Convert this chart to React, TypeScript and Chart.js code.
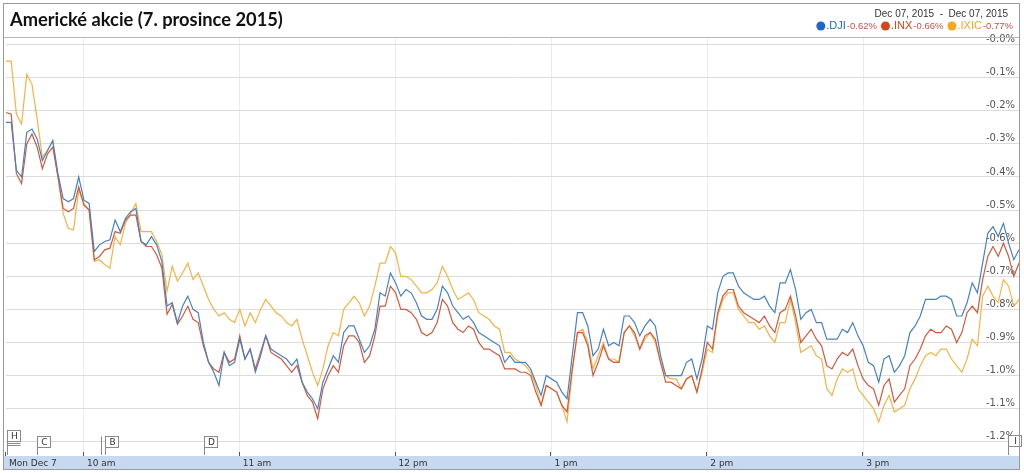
import React, { useEffect, useRef } from 'react';
import { Chart, registerables } from 'chart.js';

Chart.register(...registerables);

// ---- Text ----
const TITLE = 'Americké akcie (7. prosince 2015)';
const DATE_RANGE = 'Dec 07, 2015  -  Dec 07, 2015';

// ---- Series ----
const seriesNames = ['.DJI', '.INX', '.IXIC'];
const seriesChanges = ['-0.62%', '-0.66%', '-0.77%'];
const lineColors = ['#4a80c2', '#cf5a3c', '#f1b446'];
const legendColors = ['#1c68c4', '#d5461e', '#f5a623'];

// Minutes after 9:30 am, sampled every 2 minutes until 4:00 pm
const minutes: number[] = Array.from({ length: 196 }, (_, i) => i * 2);

// % change vs previous close
const dji = [
  -0.235, -0.235, -0.38, -0.40, -0.265, -0.255, -0.285, -0.35, -0.32, -0.29, -0.39, -0.465, -0.475, -0.465, -0.40, -0.47, -0.48,
  -0.625, -0.605, -0.595, -0.59, -0.53, -0.565, -0.525, -0.505, -0.495, -0.595, -0.605, -0.58, -0.605, -0.655, -0.79, -0.78, -0.84,
  -0.79, -0.76, -0.80, -0.81, -0.90, -0.96, -0.99, -1.03, -0.93, -0.97, -0.96, -0.89, -0.95, -0.92, -0.99, -0.94, -0.88, -0.92,
  -0.93, -0.94, -0.95, -0.97, -0.95, -1.02, -1.05, -1.07, -1.10, -1.02, -0.98, -0.94, -0.96, -0.87, -0.85, -0.85, -0.89, -0.93,
  -0.91, -0.86, -0.75, -0.76, -0.69, -0.72, -0.76, -0.74, -0.75, -0.78, -0.82, -0.83,
  -0.83, -0.80, -0.73, -0.75, -0.79, -0.81, -0.83, -0.82, -0.84, -0.87, -0.88, -0.89, -0.90, -0.91, -0.96, -0.94, -0.96, -0.96,
  -0.96, -0.98, -1.02, -1.06, -1.00, -1.01, -1.02, -1.05, -1.07, -0.94, -0.81, -0.81, -0.85, -0.94, -0.92, -0.86, -0.91, -0.90,
  -0.91, -0.82, -0.82, -0.84, -0.88, -0.85, -0.83, -0.85, -0.94, -1.00, -1.00, -1.00, -1.00, -0.96, -0.95, -1.01, -0.95,
  -0.85, -0.86, -0.75, -0.70, -0.69, -0.69, -0.73, -0.75, -0.76, -0.77, -0.77, -0.76, -0.79, -0.81, -0.72, -0.72, -0.68, -0.74,
  -0.83, -0.81, -0.80, -0.84, -0.84, -0.89, -0.89, -0.89, -0.86, -0.87, -0.84, -0.88, -0.91, -0.96, -0.97, -1.02, -0.95, -0.94,
  -0.99, -0.97, -0.94, -0.87, -0.85, -0.82, -0.77, -0.77, -0.77, -0.76, -0.76, -0.77, -0.82, -0.82, -0.78, -0.72, -0.75, -0.66,
  -0.57, -0.55, -0.58, -0.54, -0.60, -0.65, -0.62,
];

const inx = [
  -0.205, -0.21, -0.39, -0.42, -0.30, -0.27, -0.31, -0.375, -0.33, -0.31, -0.40, -0.495, -0.505, -0.495, -0.43, -0.485, -0.50,
  -0.65, -0.64, -0.62, -0.615, -0.565, -0.57, -0.53, -0.515, -0.515, -0.595, -0.61, -0.61, -0.635, -0.675, -0.815, -0.785, -0.845,
  -0.82, -0.79, -0.83, -0.84, -0.91, -0.96, -0.98, -0.99, -0.93, -0.96, -0.95, -0.88, -0.95, -0.92, -0.98, -0.93, -0.88, -0.93,
  -0.94, -0.95, -0.97, -0.99, -0.97, -1.02, -1.06, -1.08, -1.13, -1.04, -1.00, -0.97, -0.99, -0.91, -0.88, -0.88, -0.90, -0.96,
  -0.94, -0.88, -0.79, -0.79, -0.73, -0.75, -0.80, -0.80, -0.81, -0.83, -0.87, -0.88,
  -0.87, -0.84, -0.77, -0.79, -0.84, -0.86, -0.87, -0.85, -0.86, -0.90, -0.92, -0.92, -0.93, -0.94, -0.98, -0.98, -0.98, -0.99,
  -0.99, -1.00, -1.05, -1.09, -1.03, -1.04, -1.05, -1.09, -1.11, -0.98, -0.87, -0.87, -0.91, -1.00, -0.96, -0.91, -0.95, -0.96,
  -0.96, -0.87, -0.85, -0.87, -0.92, -0.88, -0.87, -0.89, -0.96, -1.02, -1.02, -1.03, -1.04, -1.01, -1.00, -1.05, -0.98,
  -0.90, -0.92, -0.81, -0.76, -0.74, -0.74, -0.79, -0.81, -0.82, -0.83, -0.84, -0.82, -0.85, -0.87, -0.81, -0.80, -0.76, -0.82,
  -0.90, -0.88, -0.86, -0.89, -0.91, -0.97, -0.98, -0.95, -0.93, -0.94, -0.92, -0.97, -1.01, -1.03, -1.04, -1.09, -1.03, -1.01,
  -1.08, -1.06, -1.04, -0.97, -0.95, -0.92, -0.88, -0.86, -0.87, -0.87, -0.85, -0.86, -0.90, -0.87, -0.81, -0.79, -0.81, -0.71,
  -0.64, -0.61, -0.64, -0.60, -0.64, -0.70, -0.66,
];

const ixic = [
  -0.05, -0.05, -0.21, -0.24, -0.09, -0.12, -0.225, -0.34, -0.32, -0.29, -0.40, -0.51, -0.555, -0.56, -0.44, -0.48, -0.50,
  -0.655, -0.65, -0.665, -0.675, -0.58, -0.605, -0.54, -0.51, -0.48, -0.565, -0.565, -0.565, -0.595, -0.635, -0.745, -0.67, -0.715,
  -0.69, -0.66, -0.71, -0.69, -0.73, -0.77, -0.80, -0.82, -0.81, -0.83, -0.84, -0.80, -0.85, -0.81, -0.84, -0.80, -0.77, -0.79,
  -0.81, -0.82, -0.84, -0.85, -0.83, -0.89, -0.94, -0.99, -1.03, -0.98, -0.91, -0.87, -0.88, -0.80, -0.78, -0.76, -0.78, -0.82,
  -0.79, -0.73, -0.66, -0.66, -0.61, -0.63, -0.70, -0.70, -0.71, -0.73, -0.75, -0.75,
  -0.74, -0.72, -0.67, -0.70, -0.74, -0.77, -0.76, -0.75, -0.77, -0.81, -0.82, -0.83, -0.85, -0.86, -0.93, -0.93, -0.95, -0.96,
  -0.97, -0.99, -1.03, -1.09, -1.03, -1.04, -1.05, -1.09, -1.14, -0.99, -0.87, -0.86, -0.90, -0.98, -0.94, -0.90, -0.95, -0.95,
  -0.96, -0.87, -0.85, -0.88, -0.92, -0.89, -0.87, -0.90, -0.96, -1.00, -1.01, -1.01, -1.04, -1.01, -1.00, -1.05, -0.99,
  -0.92, -0.93, -0.82, -0.77, -0.75, -0.75, -0.80, -0.82, -0.84, -0.84, -0.86, -0.85, -0.88, -0.90, -0.84, -0.84, -0.77, -0.84,
  -0.93, -0.92, -0.91, -0.94, -0.95, -1.04, -1.06, -1.01, -0.98, -0.99, -0.98, -1.04, -1.06, -1.08, -1.10, -1.14, -1.09, -1.06,
  -1.11, -1.10, -1.09, -1.04, -1.01, -0.97, -0.94, -0.93, -0.94, -0.92, -0.92, -0.95, -0.97, -0.99, -0.95, -0.89, -0.91, -0.76,
  -0.73, -0.76, -0.78, -0.71, -0.73, -0.79, -0.77,
];

// ---- Axes ----
const X_MIN = 0;
const X_MAX = 390;
const Y_MIN = -1.24;
const Y_MAX = 0.023;
const xTickMinutes = [0, 30, 90, 150, 210, 270, 330];
const xTickLabels = ['Mon Dec 7', '10 am', '11 am', '12 pm', '1 pm', '2 pm', '3 pm'];
const yTickValues = [0, -0.1, -0.2, -0.3, -0.4, -0.5, -0.6, -0.7, -0.8, -0.9, -1.0, -1.1, -1.2];
const yTickLabels = ['-0.0%', '-0.1%', '-0.2%', '-0.3%', '-0.4%', '-0.5%', '-0.6%', '-0.7%', '-0.8%', '-0.9%', '-1.0%', '-1.1%', '-1.2%'];

// ---- News flags ----
const flagMinutes = [0.4, 11.9, 38.1, 76.2, 385.8];
const flagLetters = ['H', 'C', 'B', 'D', 'I'];
const flagStacks = [3, 1, 2, 1, 1];

const decorPlugin = {
  id: 'decor',
  beforeDraw(chart: any) {
    const { ctx, chartArea } = chart;
    ctx.save();
    ctx.fillStyle = '#ffffff';
    ctx.fillRect(0, 0, chart.width, chart.height);
    ctx.fillStyle = '#c6d9f1';
    ctx.fillRect(4, chartArea.bottom + 1, chartArea.right - 4, 13);
    ctx.restore();
  },
  afterDraw(chart: any) {
    const { ctx, chartArea, scales } = chart;
    const xs = scales.x;
    ctx.save();

    // tick marks above the time band
    ctx.strokeStyle = '#555';
    ctx.lineWidth = 1;
    xTickMinutes.forEach((m) => {
      const px = Math.round(xs.getPixelForValue(m)) - 0.5;
      ctx.beginPath();
      ctx.moveTo(px, chartArea.bottom - 3);
      ctx.lineTo(px, chartArea.bottom + 1);
      ctx.stroke();
    });

    // news flags
    ctx.font = '9px "DejaVu Sans"';
    ctx.textAlign = 'center';
    ctx.textBaseline = 'middle';
    flagLetters.forEach((letter, i) => {
      const px = Math.round(xs.getPixelForValue(flagMinutes[i])) + 0.5;
      const stack = flagStacks[i];
      let top = chartArea.bottom - 18.5;
      const w = 13;
      const h = 11;
      if (i === 0) top = chartArea.bottom - 24.5;
      if (i === flagLetters.length - 1) top = chartArea.bottom - 19.5;
      ctx.strokeStyle = '#8a8a8a';
      ctx.fillStyle = '#ffffff';
      for (let k = stack - 1; k >= 1; k--) {
        if (i === 0) {
          ctx.beginPath();
          ctx.moveTo(px, top + h + 2 * k);
          ctx.lineTo(px + w, top + h + 2 * k);
          ctx.stroke();
        } else {
          ctx.beginPath();
          ctx.moveTo(px - 4 * k, top);
          ctx.lineTo(px - 4 * k, chartArea.bottom);
          ctx.stroke();
        }
      }
      ctx.fillRect(px, top, w, h);
      ctx.strokeRect(px, top, w, h);
      ctx.beginPath();
      ctx.moveTo(px, top + h);
      ctx.lineTo(px, chartArea.bottom);
      ctx.stroke();
      ctx.fillStyle = '#333';
      ctx.fillText(letter, px + w / 2 + 0.5, top + h / 2 + 0.5);
    });

    // frame and top rule
    ctx.strokeStyle = '#9a9a9a';
    ctx.strokeRect(3.5, 3.5, chartArea.right - 3, chart.height - 7);
    ctx.strokeStyle = '#b8b8b8';
    ctx.beginPath();
    ctx.moveTo(4, chartArea.top + 0.5);
    ctx.lineTo(chartArea.right, chartArea.top + 0.5);
    ctx.stroke();

    // title
    ctx.textAlign = 'left';
    ctx.textBaseline = 'alphabetic';
    ctx.fillStyle = '#111';
    ctx.font = 'bold 18.3px Lato';
    ctx.fillText(TITLE, 10, 26);

    // date range
    ctx.textAlign = 'right';
    ctx.fillStyle = '#333';
    ctx.font = '10px "Liberation Sans"';
    ctx.fillText(DATE_RANGE, 1008, 17);

    // legend
    const nameFont = '11px "Liberation Sans"';
    const chgFont = '9.5px "Liberation Sans"';
    const parts = seriesNames.map((name, i) => {
      ctx.font = nameFont;
      const nw = ctx.measureText(name).width;
      ctx.font = chgFont;
      const cw = ctx.measureText(seriesChanges[i]).width;
      return { nw, cw };
    });
    const itemW = parts.map((p) => 9 + 1 + p.nw + 1 + p.cw);
    const gap = 4;
    const total = itemW.reduce((a, b) => a + b, 0) + gap * (itemW.length - 1);
    let lx = 1013 - total;
    const ly = 26;
    ctx.textAlign = 'left';
    ctx.textBaseline = 'middle';
    seriesNames.forEach((name, i) => {
      ctx.fillStyle = legendColors[i];
      ctx.beginPath();
      ctx.arc(lx + 4.5, ly, 4.5, 0, Math.PI * 2);
      ctx.fill();
      ctx.font = nameFont;
      ctx.fillText(name, lx + 10, ly);
      ctx.font = chgFont;
      ctx.fillStyle = '#c8504a';
      ctx.fillText(seriesChanges[i], lx + 11 + parts[i].nw, ly + 0.5);
      lx += itemW[i] + gap;
    });

    ctx.restore();
  },
};

export default function App() {
  const canvasRef = useRef<HTMLCanvasElement | null>(null);

  useEffect(() => {
    if (!canvasRef.current) return;
    const seriesValues = [dji, inx, ixic];
    const chart = new Chart(canvasRef.current, {
      type: 'line',
      data: {
        datasets: seriesNames.map((name, i) => ({
          label: name,
          data: minutes.map((m, j) => ({ x: m, y: seriesValues[i][j] })),
          borderColor: lineColors[i],
          backgroundColor: lineColors[i],
          borderWidth: 1.2,
          pointRadius: 0,
          tension: 0,
          fill: false,
        })),
      },
      options: {
        responsive: false,
        animation: false,
        devicePixelRatio: 1,
        layout: { padding: { left: 6, right: 5, top: 37, bottom: 0 } },
        plugins: {
          legend: { display: false },
          tooltip: { enabled: false },
          title: { display: false },
        },
        scales: {
          x: {
            type: 'linear',
            min: X_MIN,
            max: X_MAX,
            afterBuildTicks: (axis: any) => {
              axis.ticks = xTickMinutes.map((v) => ({ value: v }));
            },
            afterFit: (axis: any) => {
              axis.height = 18;
            },
            grid: {
              color: (ctx: any) => (ctx.tick && ctx.tick.value === 0 ? 'rgba(0,0,0,0)' : '#ebebeb'),
              drawTicks: false,
            },
            border: { display: false },
            ticks: {
              align: 'start',
              labelOffset: 3,
              padding: 3,
              maxRotation: 0,
              autoSkip: false,
              color: '#333',
              font: { family: 'DejaVu Sans', size: 9 },
              callback: (v: any) => xTickLabels[xTickMinutes.indexOf(Number(v))] ?? '',
            },
          },
          y: {
            position: 'right',
            min: Y_MIN,
            max: Y_MAX,
            afterBuildTicks: (axis: any) => {
              axis.ticks = yTickValues.map((v) => ({ value: v }));
            },
            afterFit: (axis: any) => {
              axis.width = 0;
            },
            grid: { color: '#dcdcdc', drawTicks: false },
            border: { display: false },
            ticks: {
              mirror: true,
              padding: -4,
              labelOffset: -5,
              color: '#555',
              font: { family: 'DejaVu Sans', size: 10 },
              callback: (v: any) => {
                const idx = yTickValues.findIndex((t) => Math.abs(t - Number(v)) < 1e-6);
                return idx >= 0 ? yTickLabels[idx] : '';
              },
            },
          },
        },
      },
      plugins: [decorPlugin],
    } as any);
    return () => chart.destroy();
  }, []);

  return (
    <div style={{ position: 'absolute', left: 0, top: 0, width: 1024, height: 473, background: '#fff' }}>
      <canvas ref={canvasRef} width={1024} height={473} style={{ display: 'block', width: 1024, height: 473 }} />
    </div>
  );
}
